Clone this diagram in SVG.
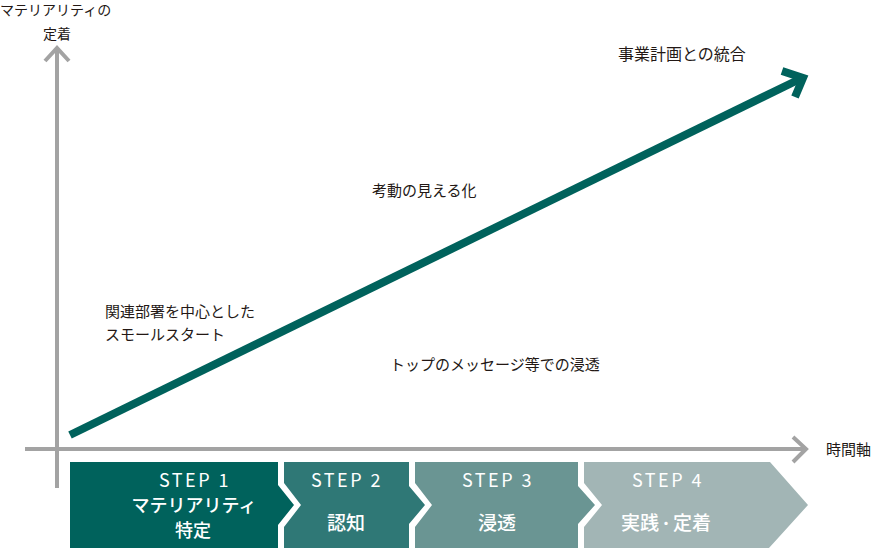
<svg xmlns="http://www.w3.org/2000/svg" width="873" height="556" viewBox="0 0 873 556">
<defs>
<style>
.lbl{font-family:"Noto Sans CJK JP","Noto Sans",sans-serif;font-size:15px;fill:#231815;}
.axis{fill:none;stroke:#a3a3a3;stroke-width:4;}
.step{font-family:"Noto Sans CJK JP","Noto Sans",sans-serif;font-size:18px;fill:#ffffff;letter-spacing:2.5px;text-anchor:middle;}
.cap{font-family:"Noto Sans CJK JP","Noto Sans",sans-serif;font-size:19px;font-weight:500;fill:#ffffff;text-anchor:middle;}
</style>
</defs>
<rect width="873" height="556" fill="#ffffff"/>
<g id="connectors">
<path class="axis" d="M57 488 V49"/>
<path class="axis" d="M45 61 L57 48 L69 61"/>
<path class="axis" d="M25 449 H805"/>
<path class="axis" d="M793 437 L806 449 L793 462"/>
<path d="M70 435 L800 79" fill="none" stroke="#00625c" stroke-width="8"/>
<path d="M782 71 L803 78 L795 97" fill="none" stroke="#00625c" stroke-width="8" stroke-linejoin="miter" stroke-miterlimit="10"/>
</g>
<g id="axis-labels">
<text class="lbl" x="0" y="15" style="font-size:14px">マテリアリティの</text>
<text class="lbl" x="57" y="39" text-anchor="middle" style="font-size:14px">定着</text>
<text class="lbl" x="826" y="455">時間軸</text>
</g>
<g id="label-integration"><text class="lbl" x="618" y="60" style="font-size:16px">事業計画との統合</text></g>
<g id="label-visual"><text class="lbl" x="372" y="196">考動の見える化</text></g>
<g id="label-small-start"><text class="lbl" x="105" y="317">関連部署を中心とした</text><text class="lbl" x="105" y="340">スモールスタート</text></g>
<g id="label-message"><text class="lbl" x="390" y="370">トップのメッセージ等での浸透</text></g>
<g id="step1">
<polygon points="70,462 278,462 278,485 294,505 278,525 278,548 70,548" fill="#00625c"/>
<text class="step" x="195" y="487">STEP 1</text>
<text class="cap" x="194" y="512" style="font-size:18px">マテリアリティ</text>
<text class="cap" x="193" y="537" style="font-size:18px">特定</text>
</g>
<g id="step2">
<polygon points="284,462 409,462 409,486 425,505 409,524 409,548 284,548 284,527 301,505 284,483" fill="#2f7876"/>
<text class="step" x="347" y="487">STEP 2</text>
<text class="cap" x="346" y="530">認知</text>
</g>
<g id="step3">
<polygon points="415,462 578,462 578,486 595,505 578,524 578,548 415,548 415,527 432,505 415,483" fill="#6a9593"/>
<text class="step" x="498" y="487">STEP 3</text>
<text class="cap" x="497" y="530">浸透</text>
</g>
<g id="step4">
<polygon points="584,462 770,462 808,505 769,548 584,548 584,527 602,505 584,483" fill="#a2b5b5"/>
<text class="step" x="668" y="487">STEP 4</text>
<text class="cap" x="666" y="530">実践<tspan style="font-size:14px" dy="-2">・</tspan><tspan dy="2">定着</tspan></text>
</g>
</svg>
